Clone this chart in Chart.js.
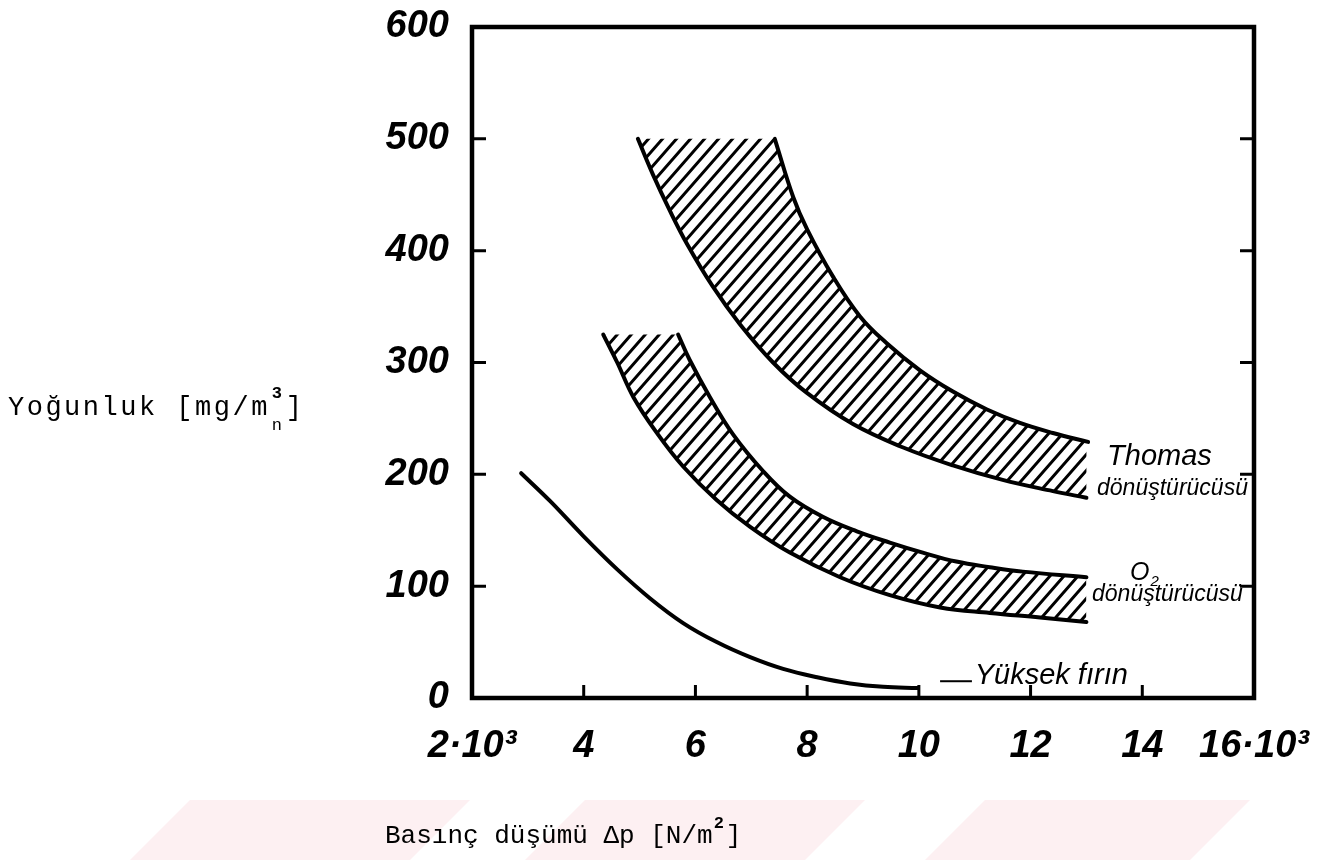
<!DOCTYPE html>
<html>
<head>
<meta charset="utf-8">
<script src="https://cdn.jsdelivr.net/npm/chart.js@4.4.0/dist/chart.umd.min.js"></script>
<style>
html,body{margin:0;padding:0;background:#fff;}
#wrap{width:1332px;height:860px;position:relative;}
</style>
</head>
<body>
<div id="wrap"><canvas id="c" width="1332" height="860"></canvas></div>
<script>
// ---- data (x: pressure drop in 10^3 N/m^2, y: concentration in mg/m^3_n) ----
const xTickValues = [2, 4, 6, 8, 10, 12, 14, 16];
const xTickLabels = ['2·10³', '4', '6', '8', '10', '12', '14', '16·10³'];
const yTickValues = [0, 100, 200, 300, 400, 500, 600];
const yTickLabels = ['0', '100', '200', '300', '400', '500', '600'];

const thomasUpperX = [7.42, 7.75, 8.0, 8.46, 8.95, 9.43, 10.02, 10.61, 11.22, 11.81, 12.4, 13.03];
const thomasUpperY = [500, 448, 419, 377, 341, 317, 293, 274, 258, 246, 237, 229];
const thomasLowerX = [4.97, 5.24, 5.54, 5.85, 6.31, 6.8, 7.39, 7.99, 8.82, 9.72, 10.61, 11.5, 12.4, 13.0];
const thomasLowerY = [500, 468, 436, 406, 368, 334, 300, 273, 245, 224, 208, 195, 185, 179];

const o2UpperX = [5.69, 5.9, 6.26, 6.67, 7.21, 7.69, 8.28, 8.89, 9.48, 10.07, 10.67, 11.27, 11.86, 13.0];
const o2UpperY = [325, 302, 269, 236, 203, 180, 162, 149, 139, 130, 122, 117, 113, 108];
const o2LowerX = [4.35, 4.6, 4.89, 5.31, 5.78, 6.38, 6.98, 7.69, 8.59, 9.48, 10.38, 11.27, 12.17, 13.0];
const o2LowerY = [325, 300, 269, 237, 207, 177, 153, 130, 108, 92, 81, 76, 72, 68];

const yuksekX = [2.88, 3.4, 3.99, 4.6, 5.19, 5.78, 6.38, 6.98, 7.57, 8.18, 8.77, 9.36, 9.98];
const yuksekY = [201, 176, 145, 115, 89, 67, 50, 36.5, 26, 18.5, 13, 10, 9];

const leaderX = [10.38, 10.95];
const leaderY = [15, 15];

// ---- helpers ----
const pts = (xs, ys) => xs.map((x, i) => ({ x: x, y: ys[i] }));

function makeHatch() {
  const w = 14, h = 16;
  const c = document.createElement('canvas');
  c.width = w; c.height = h;
  const g = c.getContext('2d');
  g.strokeStyle = '#000';
  g.lineWidth = 3;
  g.beginPath();
  for (const n of [0, 1, 2]) {
    g.moveTo(n * w - 2 * w, 2 * h);
    g.lineTo(n * w + 2 * w, -2 * h);
  }
  g.stroke();
  return g.createPattern(c, 'repeat');
}
const hatch = makeHatch();

const curveStyle = {
  borderColor: '#000', borderWidth: 4, pointRadius: 0, fill: false,
  tension: 0.4, borderCapStyle: 'round', borderJoinStyle: 'round'
};
const bandStyle = {
  backgroundColor: hatch, borderWidth: 0, borderColor: 'rgba(0,0,0,0)', pointRadius: 0, tension: 0
};

// ---- annotations (data coordinates) ----
const annotations = [
  { text: 'Thomas', x: 13.37, y: 208, size: 29 },
  { text: 'dönüştürücüsü', x: 13.19, y: 181.5, size: 23 },
  { text: 'O', x: 13.78, y: 105.5, size: 25, sub: '2' },
  { text: 'dönüştürücüsü', x: 13.10, y: 86.7, size: 23 },
  { text: 'Yüksek fırın', x: 11.0, y: 12.5, size: 29 }
];

const decorPlugin = {
  id: 'decor',
  beforeDraw(chart) {
    const ctx = chart.ctx;
    ctx.save();
    ctx.fillStyle = '#fdf0f2';
    const shapes = [[130, 190, 470, 410], [525, 585, 865, 805], [925, 985, 1250, 1190]];
    for (const s of shapes) {
      ctx.beginPath();
      ctx.moveTo(s[0], 860); ctx.lineTo(s[1], 800); ctx.lineTo(s[2], 800); ctx.lineTo(s[3], 860);
      ctx.closePath(); ctx.fill();
    }
    ctx.restore();
  },
  afterDatasetsDraw(chart) {
    const ctx = chart.ctx;
    const { left, right, top, bottom } = chart.chartArea;
    const xs = chart.scales.x, ys = chart.scales.y;
    ctx.save();
    ctx.strokeStyle = '#000';
    ctx.lineCap = 'butt';
    ctx.lineWidth = 3;
    ctx.beginPath();
    for (const v of yTickValues) {
      if (v === 0 || v === 600) continue;
      const py = ys.getPixelForValue(v);
      ctx.moveTo(left, py); ctx.lineTo(left + 14, py);
      ctx.moveTo(right, py); ctx.lineTo(right - 14, py);
    }
    for (const v of xTickValues) {
      if (v === 2 || v === 16) continue;
      const px = xs.getPixelForValue(v);
      ctx.moveTo(px, bottom); ctx.lineTo(px, bottom - 13);
    }
    ctx.stroke();
    ctx.lineWidth = 4.5;
    ctx.lineJoin = 'miter';
    ctx.strokeRect(left, top, right - left, bottom - top);

    // annotations
    ctx.fillStyle = '#000';
    ctx.textAlign = 'left';
    ctx.textBaseline = 'alphabetic';
    for (const a of annotations) {
      const px = xs.getPixelForValue(a.x), py = ys.getPixelForValue(a.y);
      ctx.font = 'italic ' + a.size + 'px "Liberation Sans"';
      ctx.fillText(a.text, px, py);
      if (a.sub) {
        const w = ctx.measureText(a.text).width;
        ctx.font = 'italic ' + Math.round(a.size * 0.6) + 'px "Liberation Sans"';
        ctx.fillText(a.sub, px + w + 1, py + 6);
      }
    }

    // axis titles (typewriter style)
    ctx.font = '27px "Liberation Mono"';
    try { ctx.letterSpacing = '2.5px'; } catch (e) {}
    const yMain = 'Yoğunluk [mg/m';
    ctx.fillText(yMain, 8, 415);
    let wx = 8 + ctx.measureText(yMain).width;
    ctx.font = 'bold 17px "Liberation Mono"';
    ctx.fillText('3', wx + 2, 398);
    ctx.font = '17px "Liberation Mono"';
    ctx.fillText('n', wx + 2, 430);
    ctx.font = '27px "Liberation Mono"';
    ctx.fillText(']', wx + 16, 415);

    try { ctx.letterSpacing = '0px'; } catch (e) {}
    const xMain = 'Basınç düşümü Δp [N/m';
    ctx.font = '26px "Liberation Mono"';
    ctx.fillText(xMain, 385, 843);
    let bx = 385 + ctx.measureText(xMain).width;
    ctx.font = 'bold 17px "Liberation Mono"';
    ctx.fillText('2', bx + 1, 828);
    ctx.font = '26px "Liberation Mono"';
    ctx.fillText(']', bx + 13, 843);
    ctx.restore();
  }
};

const tickFont = { family: 'Liberation Sans', size: 38, style: 'italic', weight: 'bold' };

new Chart(document.getElementById('c'), {
  type: 'line',
  data: {
    datasets: [
      Object.assign({ label: 'Thomas band', fill: 2,
        data: [{ x: thomasLowerX[0], y: thomasUpperY[0] }].concat(pts(thomasUpperX, thomasUpperY)) }, bandStyle),
      Object.assign({ label: 'Thomas upper', data: pts(thomasUpperX, thomasUpperY) }, curveStyle),
      Object.assign({ label: 'Thomas lower', data: pts(thomasLowerX, thomasLowerY) }, curveStyle),
      Object.assign({ label: 'O2 band', fill: 5,
        data: [{ x: o2LowerX[0], y: o2UpperY[0] }].concat(pts(o2UpperX, o2UpperY)) }, bandStyle),
      Object.assign({ label: 'O2 upper', data: pts(o2UpperX, o2UpperY) }, curveStyle),
      Object.assign({ label: 'O2 lower', data: pts(o2LowerX, o2LowerY) }, curveStyle),
      Object.assign({ label: 'Yüksek fırın', data: pts(yuksekX, yuksekY) }, curveStyle),
      { label: 'leader', data: pts(leaderX, leaderY), borderColor: '#000', borderWidth: 2, pointRadius: 0, fill: false }
    ]
  },
  options: {
    responsive: false,
    animation: false,
    devicePixelRatio: 1,
    layout: { padding: { left: 0, right: 78, top: 27, bottom: 0 } },
    plugins: {
      legend: { display: false },
      tooltip: { enabled: false },
      filler: { drawTime: 'beforeDatasetsDraw' }
    },
    scales: {
      x: {
        type: 'linear', min: 2, max: 16,
        grid: { display: false, drawTicks: false },
        border: { display: false },
        afterBuildTicks: (s) => { s.ticks = xTickValues.map(v => ({ value: v })); },
        afterFit: (s) => { s.height = 162; s.paddingLeft = 0; s.paddingRight = 0; },
        ticks: {
          autoSkip: false, maxRotation: 0, minRotation: 0, padding: 26, color: '#000', font: tickFont,
          callback: (v) => xTickLabels[xTickValues.indexOf(v)]
        }
      },
      y: {
        type: 'linear', min: 0, max: 600,
        grid: { display: false, drawTicks: false },
        border: { display: false },
        afterBuildTicks: (s) => { s.ticks = yTickValues.map(v => ({ value: v })); },
        afterFit: (s) => { s.width = 472; s.paddingTop = 0; s.paddingBottom = 0; },
        ticks: {
          padding: 23, color: '#000', font: tickFont,
          callback: (v) => yTickLabels[yTickValues.indexOf(v)]
        }
      }
    }
  },
  plugins: [decorPlugin]
});
</script>
</body>
</html>
